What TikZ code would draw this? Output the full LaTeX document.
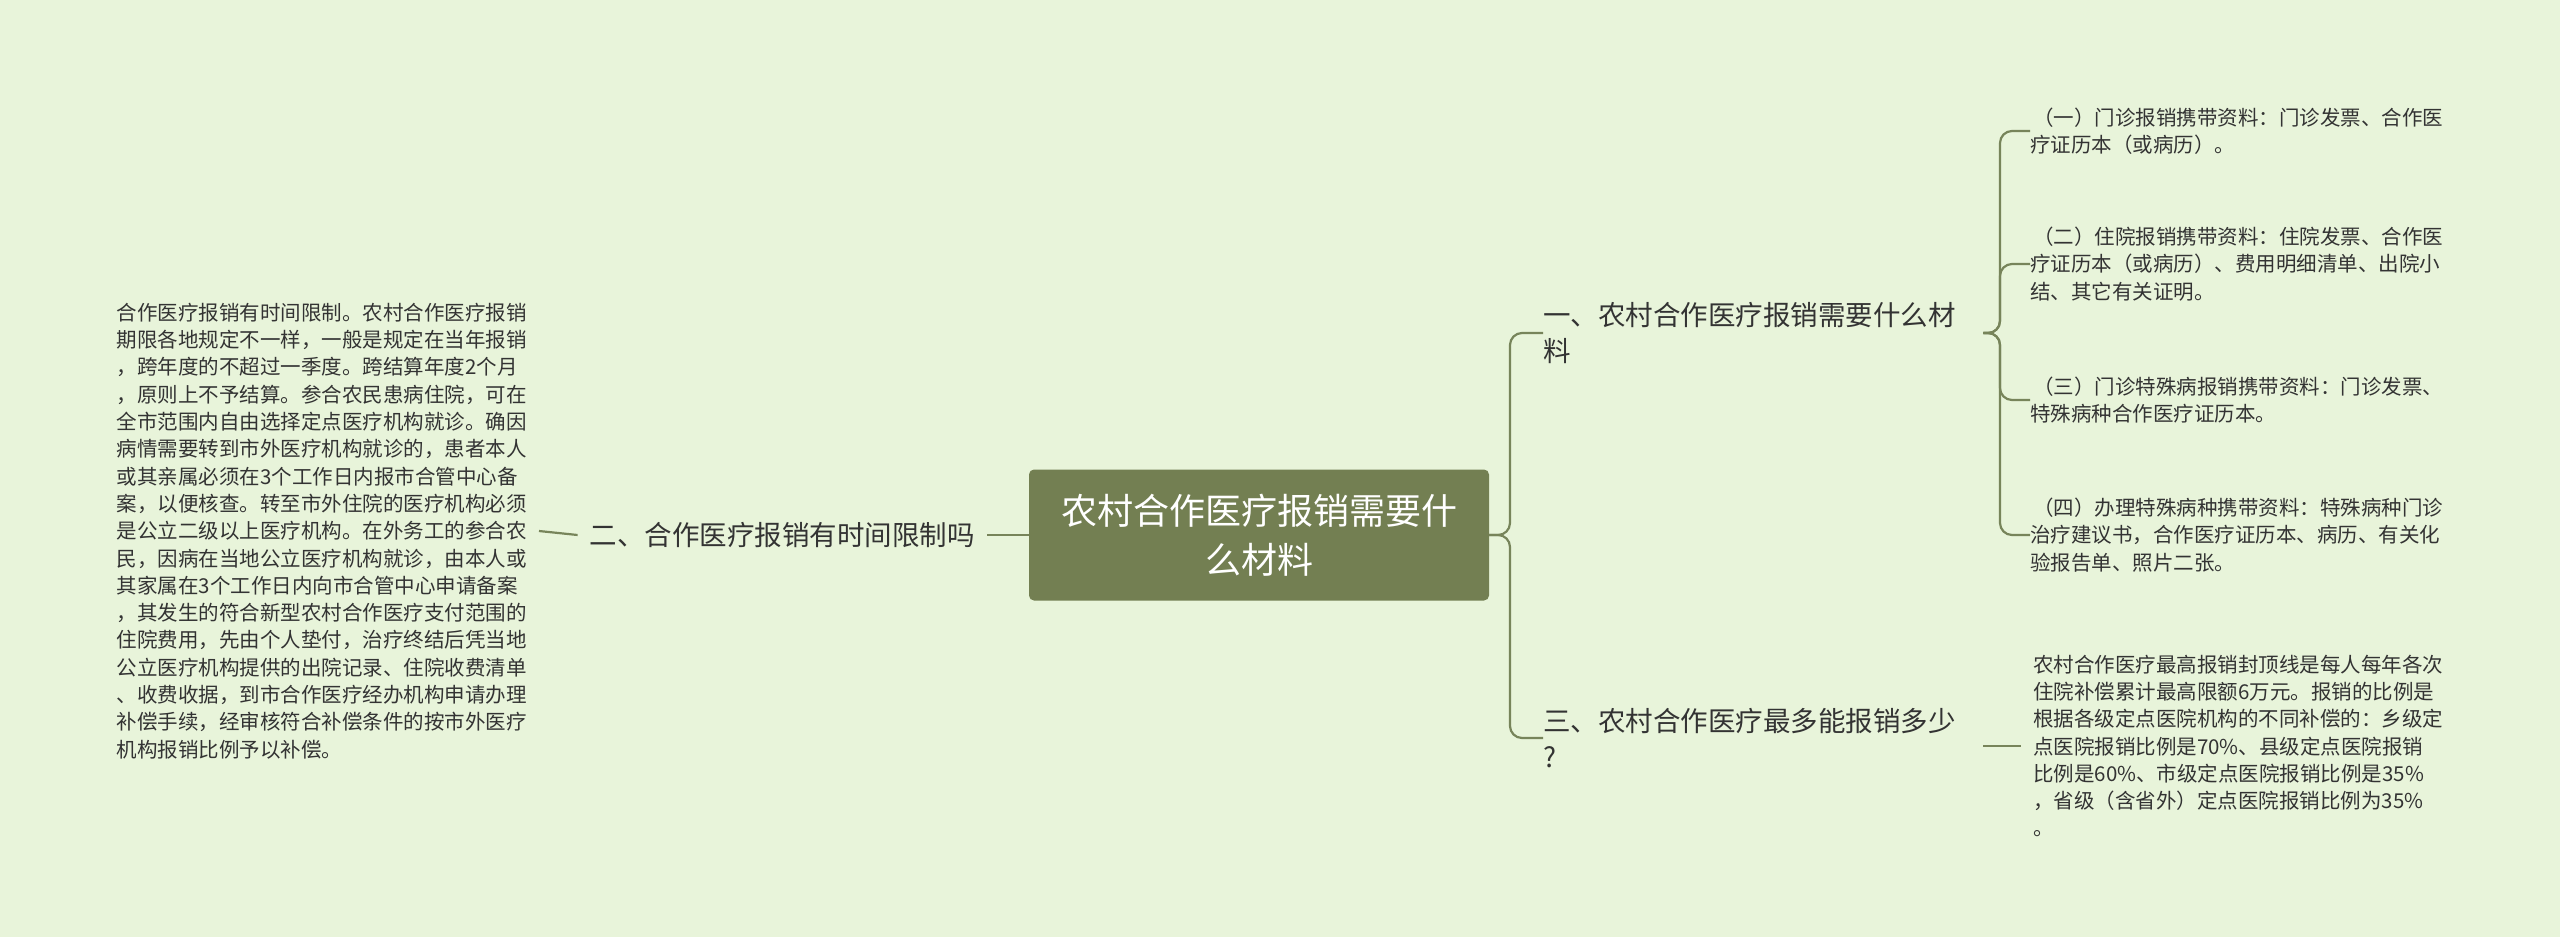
\documentclass[tikz,border=0pt]{standalone}
\usepackage{fontspec}
\setmainfont{Noto Sans CJK SC}
\definecolor{bg}{HTML}{E8F4DA}
\definecolor{ln}{HTML}{77845A}
\definecolor{cf}{HTML}{737F52}
\definecolor{tx}{HTML}{333333}
\begin{document}
\begin{tikzpicture}[x=1pt,y=-1pt,
  small/.style={font=\fontsize{20.5}{27.3}\selectfont, text=tx, align=left, inner sep=0pt, anchor=west},
  branch/.style={font=\fontsize{27.5}{36}\selectfont, text=tx, align=left, inner sep=0pt, anchor=west},
  conn/.style={draw=ln, line width=2.2pt, rounded corners=12pt}]
\fill[bg] (0,0) rectangle (2560,937);
\useasboundingbox (0,0) rectangle (2560,937);
\node[fill=cf, rounded corners=5pt, minimum width=460pt, minimum height=131pt, text=white, align=center,
  font=\fontsize{36}{49}\selectfont] (ctr) at (1259,535) {农村合作医疗报销需要什\\么材料};
\node[branch, anchor=east, inner xsep=12pt] (b2) at (987,535) {二、合作医疗报销有时间限制吗};
\node[small, anchor=east, inner xsep=12pt] (lt) at (539,531) {合作医疗报销有时间限制。农村合作医疗报销\\期限各地规定不一样，一般是规定在当年报销\\，跨年度的不超过一季度。跨结算年度2个月\\，原则上不予结算。参合农民患病住院，可在\\全市范围内自由选择定点医疗机构就诊。确因\\病情需要转到市外医疗机构就诊的，患者本人\\或其亲属必须在3个工作日内报市合管中心备\\案，以便核查。转至市外住院的医疗机构必须\\是公立二级以上医疗机构。在外务工的参合农\\民，因病在当地公立医疗机构就诊，由本人或\\其家属在3个工作日内向市合管中心申请备案\\，其发生的符合新型农村合作医疗支付范围的\\住院费用，先由个人垫付，治疗终结后凭当地\\公立医疗机构提供的出院记录、住院收费清单\\、收费收据，到市合作医疗经办机构申请办理\\补偿手续，经审核符合补偿条件的按市外医疗\\机构报销比例予以补偿。};
\node[branch, text width=440pt] (b1) at (1543,333) {一、农村合作医疗报销需要什么材\\料};
\node[branch, text width=440pt] (b3) at (1543,738) {三、农村合作医疗最多能报销多少\\?};
\node[small] (c1) at (2030,131) {\hspace{3pt}（一）门诊报销携带资料：门诊发票、合作医\\疗证历本（或病历）。};
\node[small] (c2) at (2030,264) {\hspace{3pt}（二）住院报销携带资料：住院发票、合作医\\疗证历本（或病历）、费用明细清单、出院小\\结、其它有关证明。};
\node[small] (c3) at (2030,400) {\hspace{3pt}（三）门诊特殊病报销携带资料：门诊发票、\\特殊病种合作医疗证历本。};
\node[small] (c4) at (2030,535) {\hspace{3pt}（四）办理特殊病种携带资料：特殊病种门诊\\治疗建议书，合作医疗证历本、病历、有关化\\验报告单、照片二张。};
\node[small, inner xsep=0pt] (d1) at (2033,746) {农村合作医疗最高报销封顶线是每人每年各次\\住院补偿累计最高限额6万元。报销的比例是\\根据各级定点医院机构的不同补偿的：乡级定\\点医院报销比例是70\%、县级定点医院报销\\比例是60\%、市级定点医院报销比例是35\%\\，省级（含省外）定点医院报销比例为35\%\\。};
\coordinate (t) at (1510,535);
\coordinate (j1) at (2000,333);
\draw[conn] (ctr.west) -- (b2.east);
\draw[conn] (b2.west) -- (lt.east);
\draw[conn] (ctr.east) -- (t) |- (b1.west);
\draw[conn] (ctr.east) -- (t) |- (b3.west);
\draw[conn] (b1.east |- j1) -- (j1) |- (c1.west);
\draw[conn] (b1.east |- j1) -- (j1) |- (c2.west);
\draw[conn] (b1.east |- j1) -- (j1) |- (c3.west);
\draw[conn] (b1.east |- j1) -- (j1) |- (c4.west);
\draw[conn] (b3.east |- d1.west) -- ([xshift=-12pt]d1.west);
\end{tikzpicture}
\end{document}
